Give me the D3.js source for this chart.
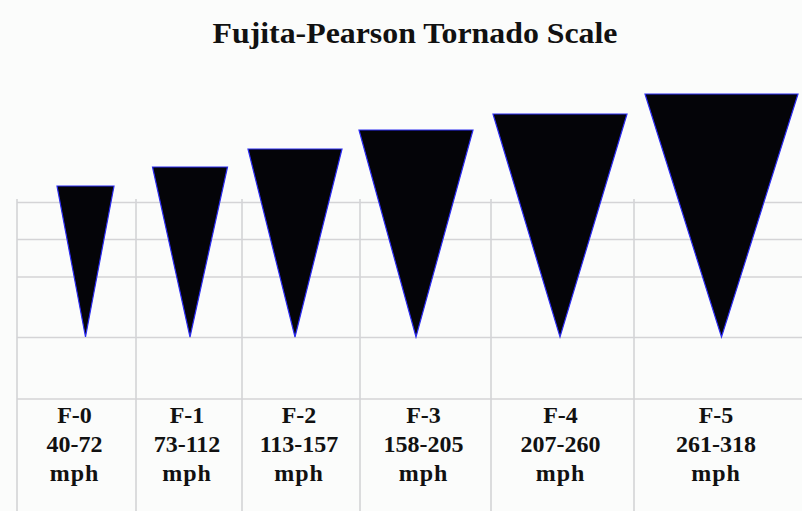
<!DOCTYPE html>
<html>
<head>
<meta charset="utf-8">
<script src="https://cdn.jsdelivr.net/npm/d3@7"></script>
<style>
  html, body { margin: 0; padding: 0; background: #fbfcfb; }
  text { font-family: "Liberation Serif", "Times New Roman", serif; font-weight: bold; fill: #111; }
</style>
</head>
<body>
<svg id="chart" width="802" height="511"></svg>
<script>
var svg = d3.select("#chart");
var width = +svg.attr("width");
var height = +svg.attr("height");

// F-scale categories and wind speed ranges (mph)
var categories = ["F-0", "F-1", "F-2", "F-3", "F-4", "F-5"];
var speedLow = [40, 73, 113, 158, 207, 261];
var speedHigh = [72, 112, 157, 205, 260, 318];
// funnel size as drawn (relative units)
var funnelWidth = [57, 75, 94, 114, 134, 153];
var funnelHeight = [151, 170, 188, 207, 223, 243];
// grid rows
var gridRows = [0, 1, 2, 3, 4];

// column boundaries, uneven like the original table
var colScale = d3.scaleLinear()
  .domain([0, 1, 2, 3, 4, 5, 6])
  .range([17, 136, 242, 360, 491, 634, 802]);

// centre of each funnel
var funnelX = d3.scaleLinear()
  .domain([0, 1, 2, 3, 4, 5])
  .range([85.5, 190, 295, 416, 560, 721.5]);

// heights go up from the tip line
var yScale = d3.scaleLinear().domain([0, 250]).range([337, 87]);
var wScale = d3.scaleLinear().domain([0, 160]).range([0, 160]);
var rowScale = d3.scaleLinear().domain([0, 1, 2, 3, 4]).range([202.5, 239.5, 277, 337.5, 399]);

// grid
svg.append("g").selectAll("line.h")
  .data(gridRows)
  .enter().append("line")
  .attr("x1", colScale(0)).attr("x2", width)
  .attr("y1", d => rowScale(d)).attr("y2", d => rowScale(d))
  .attr("stroke", "#d4d4d6").attr("stroke-width", 1.6);

svg.append("g").selectAll("line.v")
  .data(d3.range(6))
  .enter().append("line")
  .attr("x1", d => colScale(d)).attr("x2", d => colScale(d))
  .attr("y1", 199).attr("y2", height)
  .attr("stroke", "#d4d4d6").attr("stroke-width", 1.6);

// funnels (inverted triangles)
svg.append("g").selectAll("path")
  .data(categories)
  .enter().append("path")
  .attr("d", function (d, i) {
    var cx = funnelX(i);
    var half = wScale(funnelWidth[i]) / 2;
    var top = yScale(funnelHeight[i]);
    var tip = yScale(0);
    return d3.line()([[cx - half, top], [cx + half, top], [cx, tip]]) + "Z";
  })
  .attr("fill", "#040408")
  .attr("stroke", "#2b2bf0")
  .attr("stroke-width", 1.2)
  .attr("stroke-linejoin", "miter");

// labels below
var labels = svg.append("g").selectAll("g")
  .data(categories)
  .enter().append("g");

function cellCenter(i) { return (colScale(i) + colScale(i + 1)) / 2 - 2; }

labels.append("text")
  .attr("x", (d, i) => cellCenter(i))
  .attr("y", 423)
  .attr("text-anchor", "middle")
  .style("font-size", "24px")
  .text(d => d);

labels.append("text")
  .attr("x", (d, i) => cellCenter(i))
  .attr("y", 452)
  .attr("text-anchor", "middle")
  .style("font-size", "24px")
  .text((d, i) => speedLow[i] + "-" + speedHigh[i]);

labels.append("text")
  .attr("x", (d, i) => cellCenter(i))
  .attr("y", 481)
  .attr("text-anchor", "middle")
  .style("font-size", "24px")
  .style("letter-spacing", "1px")
  .text("mph");

// title
svg.append("text")
  .attr("x", 415)
  .attr("y", 43)
  .attr("text-anchor", "middle")
  .attr("textLength", 405)
  .attr("lengthAdjust", "spacingAndGlyphs")
  .style("font-size", "30px")
  .text("Fujita-Pearson Tornado Scale");
</script>
</body>
</html>
